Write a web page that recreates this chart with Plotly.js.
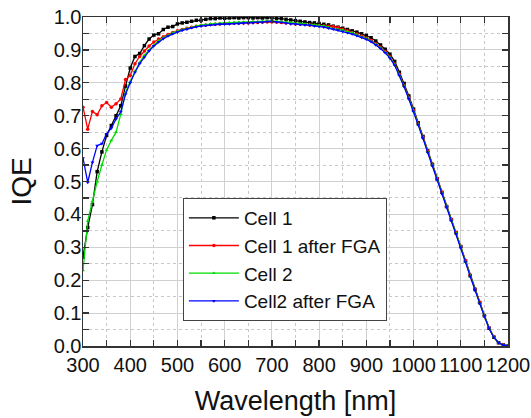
<!DOCTYPE html>
<html>
<head>
<meta charset="utf-8">
<script src="https://cdn.plot.ly/plotly-3.0.1.min.js"></script>
<style>
  html, body { margin: 0; padding: 0; background: #fff; }
  #chart { width: 531px; height: 418px; }
</style>
</head>
<body>
<div id="chart"></div>
<script>
// Wavelength grid (nm)
const wavelength = [
  300,310,320,330,340,350,360,370,380,390,
  400,410,420,430,440,450,460,470,480,490,
  500,510,520,530,540,550,560,570,580,590,
  600,610,620,630,640,650,660,670,680,690,
  700,710,720,730,740,750,760,770,780,790,
  800,810,820,830,840,850,860,870,880,890,
  900,910,920,930,940,950,960,970,980,990,
  1000,1010,1020,1030,1040,1050,1060,1070,1080,1090,
  1100,1110,1120,1130,1140,1150,1160,1170,1180,1190,
  1200
];

// Internal quantum efficiency of each cell
const cell1 = [
  0.27,0.36,0.43,0.53,0.59,0.64,0.67,0.70,0.73,0.79,
  0.845,0.880,0.889,0.913,0.933,0.945,0.949,0.962,0.969,0.971,
  0.979,0.982,0.984,0.987,0.990,0.990,0.993,0.995,0.995,0.997,
  0.996,0.997,0.998,0.997,0.998,0.998,0.997,0.998,0.997,0.998,
  0.998,0.996,0.995,0.993,0.991,0.989,0.987,0.985,0.983,0.982,
  0.980,0.978,0.976,0.972,0.969,0.966,0.962,0.958,0.954,0.949,
  0.944,0.937,0.927,0.915,0.902,0.887,0.865,0.832,0.798,0.760,
  0.720,0.678,0.637,0.593,0.552,0.508,0.467,0.424,0.384,0.344,
  0.302,0.258,0.214,0.172,0.132,0.092,0.054,0.027,0.010,0.003,
  0.000
];

const cell1FGA = [
  0.726,0.659,0.713,0.703,0.730,0.740,0.726,0.736,0.751,0.810,
  0.822,0.858,0.880,0.897,0.912,0.924,0.933,0.940,0.947,0.953,
  0.958,0.962,0.966,0.969,0.972,0.974,0.976,0.977,0.978,0.979,
  0.980,0.980,0.981,0.981,0.982,0.982,0.983,0.983,0.984,0.985,
  0.985,0.984,0.983,0.982,0.980,0.979,0.978,0.977,0.976,0.975,
  0.974,0.973,0.972,0.971,0.968,0.963,0.958,0.953,0.948,0.942,
  0.936,0.929,0.919,0.908,0.895,0.879,0.857,0.826,0.792,0.755,
  0.716,0.675,0.635,0.592,0.551,0.508,0.467,0.425,0.385,0.345,
  0.303,0.259,0.215,0.173,0.133,0.093,0.055,0.027,0.010,0.003,
  0.000
];

const cell2 = [
  0.23,0.38,0.44,0.50,0.55,0.596,0.625,0.650,0.705,0.770,
  0.804,0.835,0.862,0.884,0.900,0.915,0.927,0.937,0.944,0.951,
  0.957,0.961,0.965,0.969,0.972,0.975,0.977,0.979,0.980,0.981,
  0.982,0.983,0.984,0.984,0.985,0.985,0.986,0.986,0.987,0.987,
  0.988,0.987,0.986,0.985,0.983,0.981,0.980,0.979,0.977,0.976,
  0.975,0.973,0.968,0.964,0.962,0.960,0.956,0.952,0.946,0.940,
  0.934,0.927,0.917,0.906,0.893,0.877,0.855,0.824,0.790,0.753,
  0.714,0.673,0.633,0.590,0.549,0.506,0.465,0.423,0.383,0.343,
  0.300,0.256,0.212,0.170,0.130,0.091,0.054,0.027,0.010,0.003,
  0.000
];

const cell2FGA = [
  0.571,0.497,0.558,0.609,0.615,0.645,0.662,0.690,0.712,0.765,
  0.800,0.832,0.858,0.878,0.897,0.912,0.924,0.934,0.942,0.949,
  0.954,0.959,0.963,0.967,0.970,0.972,0.974,0.976,0.977,0.978,
  0.978,0.979,0.980,0.980,0.981,0.982,0.982,0.983,0.984,0.986,
  0.987,0.985,0.983,0.981,0.979,0.978,0.977,0.976,0.975,0.973,
  0.971,0.969,0.966,0.963,0.960,0.956,0.952,0.948,0.943,0.938,
  0.932,0.925,0.915,0.904,0.891,0.875,0.853,0.822,0.788,0.751,
  0.712,0.671,0.631,0.588,0.547,0.504,0.463,0.421,0.381,0.341,
  0.299,0.255,0.211,0.169,0.129,0.090,0.053,0.026,0.010,0.003,
  0.000
];

const seriesNames = ['Cell 1', 'Cell 1 after FGA', 'Cell 2', 'Cell2 after FGA'];

const FONT = 'Arial, "Liberation Sans", sans-serif';

function series(y, name, color, symbol) {
  return {
    x: wavelength, y: y, name: name,
    type: 'scatter', mode: 'lines+markers',
    line: { color: color, width: 1.3 },
    marker: { color: color, symbol: symbol, size: 3.5 }
  };
}

const traces = [
  series(cell1, seriesNames[0], '#000000', 'square'),
  series(cell1FGA, seriesNames[1], '#ff0000', 'circle'),
  series(cell2, seriesNames[2], '#00dd00', 'triangle-up'),
  series(cell2FGA, seriesNames[3], '#0000ff', 'triangle-down')
];

const axisCommon = {
  showline: true, linecolor: '#333', linewidth: 1.5, mirror: 'allticks',
  ticks: 'inside', ticklen: 6, tickwidth: 1.3, tickcolor: '#333',
  showgrid: true, gridcolor: '#d0d0d0', gridwidth: 1,
  zeroline: false,
  tickfont: { family: FONT, size: 20, color: '#111' },
  minor: {
    ticks: 'inside', ticklen: 6, tickwidth: 1.3, tickcolor: '#333',
    showgrid: true, gridcolor: '#c8c8c8', griddash: 'dot', gridwidth: 1
  }
};

const layout = {
  width: 531, height: 418,
  margin: { l: 83, r: 23, t: 17, b: 72 },
  paper_bgcolor: '#fff', plot_bgcolor: '#fff',
  font: { family: FONT, color: '#111' },
  xaxis: Object.assign({}, axisCommon, {
    range: [300, 1200], dtick: 100, tick0: 300,
    minor: Object.assign({}, axisCommon.minor, { dtick: 50 }),
    title: { text: 'Wavelength [nm]', font: { family: FONT, size: 27, color: '#111' }, standoff: 16 }
  }),
  yaxis: Object.assign({}, axisCommon, {
    range: [0, 1.0], dtick: 0.1, tick0: 0, tickformat: '.1f',
    ticklabelstandoff: -4,
    minor: Object.assign({}, axisCommon.minor, { dtick: 0.05 }),
    title: { text: 'IQE', font: { family: FONT, size: 28, color: '#111' }, standoff: 14 }
  }),
  showlegend: true,
  legend: {
    x: 0.235, y: 0.45, xanchor: 'left', yanchor: 'top',
    bgcolor: '#fff', bordercolor: '#444', borderwidth: 1,
    font: { family: FONT, size: 19, color: '#111' },
    itemwidth: 50
  }
};

Plotly.newPlot('chart', traces, layout, { staticPlot: true, displayModeBar: false });
</script>
</body>
</html>
